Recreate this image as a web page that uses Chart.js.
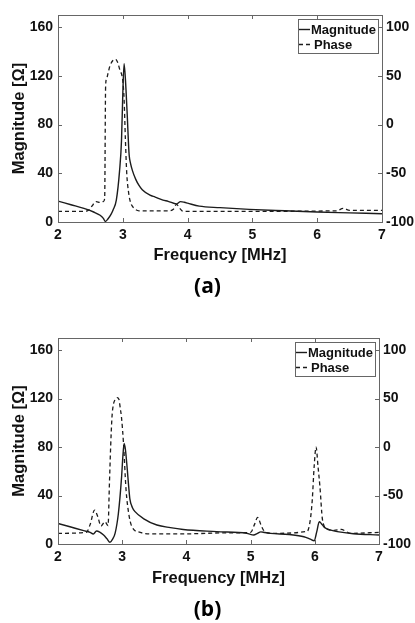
<!DOCTYPE html>
<html><head><meta charset="utf-8">
<script src="https://cdn.jsdelivr.net/npm/chart.js@4.4.0/dist/chart.umd.min.js"></script>
<style>
html,body{margin:0;padding:0;background:#fff;width:415px;height:623px;overflow:hidden}
canvas{display:block;position:absolute;left:0}
#ca{top:0}
#cb{top:310px}
</style></head><body>
<canvas id="ca" width="415" height="310"></canvas>
<canvas id="cb" width="415" height="313"></canvas>
<script>
// ---------- DATA ----------
const seriesLabels = ['Magnitude', 'Phase'];
const panelLabels = ['(a)', '(b)'];
const xTitle = 'Frequency [MHz]';
const yTitle = 'Magnitude [\u03A9]';

// Panel (a)
const freqMagA = [2.00,2.20,2.40,2.55,2.65,2.70,2.73,2.77,2.82,2.85,2.90,2.95,2.98,3.00,3.02,3.05,3.07,3.09,3.10,3.12,3.15,3.20,3.25,3.30,3.42,3.50,3.62,3.70,3.83,3.89,3.95,4.00,4.18,4.50,4.95,5.50,6.00,6.50,7.00];
const magA     = [17.2,14.2,11.2,8.2,5.5,3.0,0.5,2.5,6.5,9.9,18,42,67,105,130,108,86,62,54,48,42,35,30,26.5,22,20.5,18,17,14.8,16.7,16.2,15.5,13,11.8,10.4,9.2,8.2,7.5,6.8];
const freqPhA  = [2.00,2.40,2.47,2.52,2.59,2.65,2.70,2.72,2.735,2.75,2.77,2.80,2.85,2.89,2.92,2.96,2.98,3.00,3.02,3.04,3.06,3.09,3.12,3.17,3.25,3.70,3.78,3.83,3.88,3.93,5.00,6.30,6.40,6.50,7.00];
const phaseA   = [-89,-89,-88,-84,-79,-80,-79,-76,40,47,52,60,66,67,64,55,52,45,26,-15,-49,-70,-80,-85.6,-88.5,-88.5,-87,-82,-86,-89,-89,-88.5,-86,-88,-88];

// Panel (b)
const freqMagB = [2.00,2.20,2.40,2.50,2.55,2.60,2.65,2.71,2.76,2.81,2.85,2.89,2.94,2.99,3.01,3.03,3.05,3.08,3.10,3.12,3.16,3.20,3.33,3.54,3.75,3.95,4.47,4.94,5.05,5.10,5.16,5.22,5.31,5.60,5.83,5.93,5.99,6.03,6.07,6.10,6.15,6.25,6.35,6.60,7.00];
const magB     = [17,14,11,9.6,8.3,10.7,9.8,7.4,4.5,1.4,4,9,25,55,72,83,78,61,48,37,30,26.7,21,15.7,13.5,12,10.2,8.8,7.4,8.5,10,9.5,8.8,7.8,6,4,2.7,10,18.4,17,13.7,11.5,10.2,8.5,7.4];
const freqPhB  = [2.00,2.44,2.50,2.57,2.62,2.67,2.73,2.78,2.80,2.82,2.84,2.86,2.89,2.92,2.95,2.97,2.99,3.02,3.06,3.10,3.15,3.28,3.44,4.00,4.60,5.00,5.06,5.11,5.16,5.20,5.31,5.88,5.93,5.96,5.99,6.02,6.05,6.08,6.12,6.20,6.30,6.41,6.56,7.00];
const phaseB   = [-89,-88,-80,-65,-72,-81.5,-77,-81,-40,0,30,43,49,51,49,40,30,4,-44,-68,-82,-88,-89.5,-89.5,-88.5,-88,-80,-72.5,-80,-85.6,-89,-87,-75,-55,-20,0,-20,-41,-75,-85,-86,-85,-89,-88];

// Axis ranges / ticks
const xRange = [2, 7], xStep = 1;
const magRange = [0, 170], magStep = 40;
const phRange = [-100, 112.5], phStep = 50;

// ---------- HELPERS ----------
const LINE = '#1c1c1c';
const FRAME = '#666';
const tickFont = {family: '"Liberation Sans", Arial, sans-serif', size: 14, weight: 'bold'};
const titleFont = {family: '"Liberation Sans", Arial, sans-serif', size: 16.5, weight: 'bold'};

const pts = (xs, ys) => xs.map((x, i) => ({x, y: ys[i]}));

const framePlugin = {
  id: 'frameBox',
  afterDatasetsDraw(chart, args, opts) {
    const {ctx, chartArea: a, scales} = chart;
    ctx.save();
    ctx.strokeStyle = FRAME; ctx.lineWidth = 1; ctx.setLineDash([]);
    const L = 4;
    ctx.beginPath();
    scales.x.ticks.forEach(t => {
      const px = Math.round(scales.x.getPixelForValue(t.value)) + 0.5;
      ctx.moveTo(px, a.bottom); ctx.lineTo(px, a.bottom - L);
      ctx.moveTo(px, a.top); ctx.lineTo(px, a.top + L);
    });
    scales.y.ticks.forEach(t => {
      const py = Math.round(scales.y.getPixelForValue(t.value)) + 0.5;
      ctx.moveTo(a.left, py); ctx.lineTo(a.left + L, py);
    });
    scales.y2.ticks.forEach(t => {
      const py = Math.round(scales.y2.getPixelForValue(t.value)) + 0.5;
      ctx.moveTo(a.right, py); ctx.lineTo(a.right - L, py);
    });
    ctx.stroke();
    ctx.strokeRect(Math.round(a.left) + 0.5, Math.round(a.top) + 0.5,
                   Math.round(a.right - a.left), Math.round(a.bottom - a.top));

    // legend box inside chart area (top-right)
    ctx.font = 'bold 13px "Liberation Sans", Arial, sans-serif';
    const dsets = chart.data.datasets;
    const tw = Math.max(...dsets.map(d => ctx.measureText(d.label).width));
    const sample = 11;
    const w = Math.round(1 + sample + 1 + tw + 2), h = 34;
    const x1 = Math.round(a.right - opts.right - w), y1 = Math.round(a.top + opts.top);
    ctx.fillStyle = '#fff'; ctx.fillRect(x1, y1, w, h);
    ctx.strokeStyle = FRAME; ctx.strokeRect(x1 + 0.5, y1 + 0.5, w, h);
    dsets.forEach((d, i) => {
      const cy = y1 + 11 + i * 15;
      ctx.strokeStyle = d.borderColor; ctx.lineWidth = d.borderWidth;
      ctx.setLineDash(d.borderDash || []);
      ctx.beginPath(); ctx.moveTo(x1 + 1, cy - 0.5); ctx.lineTo(x1 + 1 + sample, cy - 0.5); ctx.stroke();
      ctx.setLineDash([]);
      ctx.fillStyle = '#111'; ctx.textBaseline = 'middle'; ctx.textAlign = 'left';
      ctx.fillText(d.label, x1 + sample + 2 + (i === 1 ? 3 : 0), cy);
    });
    ctx.restore();
  }
};

function makeChart(id, g, fm, mg, fp, ph, panel) {
  return new Chart(document.getElementById(id), {
    type: 'line',
    data: {
      datasets: [
        {label: seriesLabels[0], data: pts(fm, mg), yAxisID: 'y', borderColor: LINE, borderWidth: 1.4,
         pointRadius: 0, fill: false, cubicInterpolationMode: 'monotone'},
        {label: seriesLabels[1], data: pts(fp, ph), yAxisID: 'y2', borderColor: LINE, borderWidth: 1.3,
         borderDash: [4, 3], pointRadius: 0, fill: false, cubicInterpolationMode: 'monotone'}
      ]
    },
    options: {
      responsive: false, animation: false, events: [],
      layout: {padding: {left: 0, right: 0, top: g.top, bottom: 0}},
      plugins: {
        legend: {display: false}, tooltip: {enabled: false},
        title: {display: true, position: 'bottom', text: panel, color: '#000',
                font: {family: '"Open Sans", sans-serif', size: 21, weight: 'bold', lineHeight: 1.2},
                padding: {top: 0, bottom: g.panelPad}},
        frameBox: {right: g.legRight, top: g.legTop}
      },
      scales: {
        x: {type: 'linear', min: xRange[0], max: xRange[1],
            ticks: {stepSize: xStep, font: tickFont, color: '#111', padding: 5, maxRotation: 0},
            grid: {display: false, drawTicks: false}, border: {display: false},
            title: {display: true, text: xTitle, font: titleFont, color: '#111', padding: {top: 0, bottom: g.xTitlePad}},
            afterFit: s => { s.height = g.xH; }},
        y: {type: 'linear', position: 'left', min: magRange[0], max: magRange[1],
            ticks: {stepSize: magStep, includeBounds: false, font: tickFont, color: '#111', padding: 5},
            grid: {display: false, drawTicks: false}, border: {display: false},
            title: {display: true, text: yTitle, font: titleFont, color: '#111', padding: {top: 10, bottom: 0}},
            afterFit: s => { s.width = g.leftW; }},
        y2: {type: 'linear', position: 'right', min: phRange[0], max: phRange[1],
            ticks: {stepSize: phStep, includeBounds: false, font: tickFont, color: '#111', padding: 4},
            grid: {display: false, drawTicks: false}, border: {display: false},
            afterFit: s => { s.width = g.rightW; }}
      }
    },
    plugins: [framePlugin]
  });
}

makeChart('ca', {top: 15, leftW: 58, rightW: 33, xH: 52.9, panelPad: 9.9, xTitlePad: 9.6, legRight: 4, legTop: 4},
          freqMagA, magA, freqPhA, phaseA, panelLabels[0]);
makeChart('cb', {top: 28, leftW: 58, rightW: 36, xH: 53.4, panelPad: 0.4, xTitlePad: 9.3, legRight: 4, legTop: 4},
          freqMagB, magB, freqPhB, phaseB, panelLabels[1]);
</script>
</body></html>
